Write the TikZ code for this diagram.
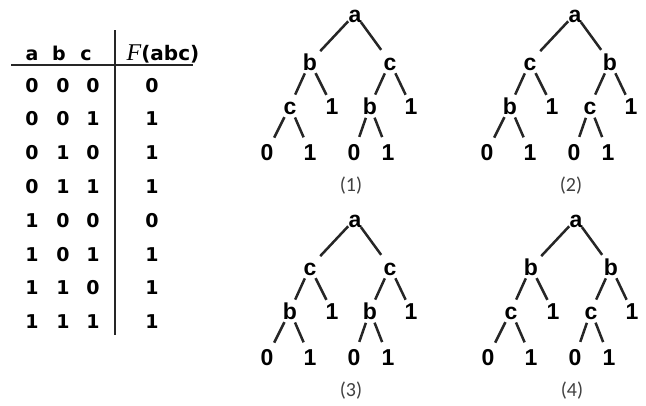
\documentclass[tikz,border=0pt]{standalone}
\usepackage{fontspec}
\setmainfont{Liberation Sans}
\newfontfamily\tabfont{DejaVu Sans}
\newfontfamily\labfont{Carlito}
\newfontfamily\ffont{Liberation Serif}
\tikzset{
  tv/.style={font=\bfseries\fontsize{23}{23}\selectfont, anchor=base, inner sep=1pt, text height=16pt, text depth=0pt},
  te/.style={line width=2.5pt, draw=black!85},
  eone/.style={te, shorten <=10pt, shorten >=15pt},
  etwo/.style={te, shorten <=12.5pt, shorten >=12.5pt},
  ethree/.style={te, shorten <=12.5pt, shorten >=16pt},
  tabtxt/.style={font=\tabfont\bfseries\fontsize{19}{19}\selectfont, anchor=base, inner sep=0pt},
  lab/.style={font=\labfont\fontsize{20}{20}\selectfont, text=black!75, inner sep=0pt},
  tabrule/.style={line width=1.8pt, draw=black!85}
}
\newcommand\bddtree[8]{%
  \begin{scope}[shift={(#1,#2)}]
    \node[tv] (#3a) at (355,22) {a};
    \node[tv] (#3l) at (310,70) {#4};
    \node[tv] (#3r) at (390,70) {#5};
    \node[tv] (#3ll) at (290,114) {#6};
    \node[tv] (#3lr) at (332,114) {1};
    \node[tv] (#3rl) at (370,114) {#7};
    \node[tv] (#3rr) at (411,114) {1};
    \node[tv] (#3lll) at (267,160) {0};
    \node[tv] (#3llr) at (310,160) {1};
    \node[tv] (#3rll) at (354,160) {0};
    \node[tv] (#3rlr) at (388,160) {1};
    \node[lab] (#3cap) at (351,186) {(#8)};
  \end{scope}
  \draw[eone] (#3a.center) -- (#3l.center);
  \draw[eone] (#3a.center) -- (#3r.center);
  \draw[etwo] (#3l.center) -- (#3ll.center);
  \draw[etwo] (#3l.center) -- (#3lr.center);
  \draw[etwo] (#3r.center) -- (#3rl.center);
  \draw[etwo] (#3r.center) -- (#3rr.center);
  \draw[ethree] (#3ll.center) -- (#3lll.center);
  \draw[ethree] (#3ll.center) -- (#3llr.center);
  \draw[ethree] (#3rl.center) -- (#3rll.center);
  \draw[ethree] (#3rl.center) -- (#3rlr.center);
}
\begin{document}
\begin{tikzpicture}[x=1pt,y=-1pt]
  \useasboundingbox (0,0) rectangle (646,405);
  % truth table
  \node[tabtxt] (ha) at (32,60) {a};
  \node[tabtxt] (hb) at (59,60) {b};
  \node[tabtxt] (hc) at (86,60) {c};
  \node[anchor=base, inner sep=0pt] (hf) at (163,60)
    {{\ffont\itshape\fontsize{24}{24}\selectfont F}{\tabfont\bfseries\fontsize{20}{20}\selectfont(abc)}};
  \coordinate (ul) at (11,65);
  \coordinate (ur) at (193,65);
  \coordinate (vt) at (115,30);
  \coordinate (vb) at (115,335);
  \draw[tabrule] (ul) -- (ur);
  \draw[tabrule] (vt) -- (vb);
  \foreach \i/\va/\vb/\vc/\vf in {0/0/0/0/0,1/0/0/1/1,2/0/1/0/1,3/0/1/1/1,4/1/0/0/0,5/1/0/1/1,6/1/1/0/1,7/1/1/1/1}{
    \node[tabtxt] (ra\i) at (32,92+33.8*\i) {\va};
    \node[tabtxt] (rb\i) at (63,92+33.8*\i) {\vb};
    \node[tabtxt] (rc\i) at (93,92+33.8*\i) {\vc};
    \node[tabtxt] (rf\i) at (152,92+33.8*\i) {\vf};
  }
  % trees
  \bddtree{0}{0}{A}{b}{c}{c}{b}{1}
  \bddtree{220}{0}{B}{c}{b}{b}{c}{2}
  \bddtree{0}{205}{C}{c}{c}{b}{b}{3}
  \bddtree{221}{205}{D}{b}{b}{c}{c}{4}
\end{tikzpicture}
\end{document}
